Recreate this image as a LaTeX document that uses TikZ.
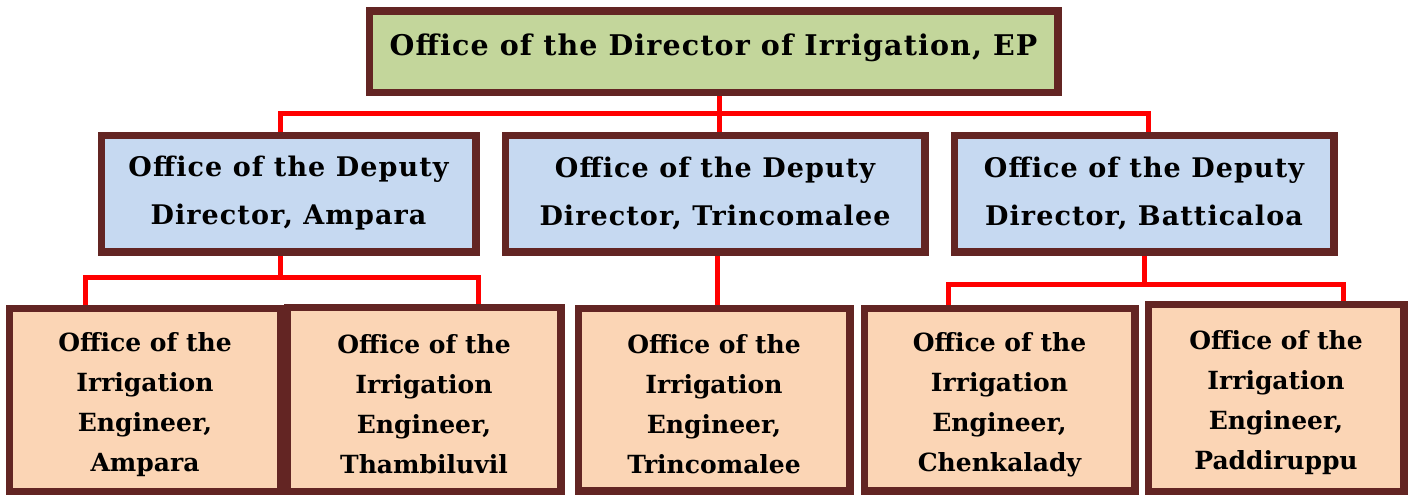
\documentclass[tikz,border=0pt]{standalone}
\usepackage{fontspec}
\setmainfont{DejaVu Serif}
\newfontfamily\boxfont[LetterSpace=4]{DejaVu Serif}
\definecolor{boxborder}{HTML}{632523}
\definecolor{topfill}{HTML}{C3D69B}
\definecolor{midfill}{HTML}{C6D9F1}
\definecolor{lowfill}{HTML}{FBD5B5}
\definecolor{linkred}{HTML}{FF0000}
\newcommand{\lowstrut}{\rule{0pt}{29pt}}
\tikzset{
  orgbox/.style={draw=boxborder, line width=5pt, rectangle, inner sep=0pt, align=center, text=black},
  topbox/.style={orgbox, fill=topfill, font=\boxfont\bfseries\fontsize{28.5}{34}\selectfont, text height=23pt, text depth=16pt},
  midbox/.style={orgbox, fill=midfill, font=\boxfont\bfseries\fontsize{27}{48}\selectfont},
  lowbox/.style={orgbox, fill=lowfill, font=\bfseries\fontsize{25}{40}\selectfont},
  conn/.style={draw=linkred, line width=5pt, line join=miter}
}
\begin{document}
\begin{tikzpicture}[x=1pt,y=-1pt]
\useasboundingbox (0,0) rectangle (1409,495);
% boxes
\node[topbox, minimum width=686pt, minimum height=79pt] (top) at (713.5,52) {Office of the Director of Irrigation, EP};
\node[midbox, minimum width=372pt, minimum height=114pt] (ma) at (288.5,193.5) {Office of the Deputy\\Director, Ampara};
\node[midbox, minimum width=417pt, minimum height=114pt] (mt) at (715,193.5) {Office of the Deputy\\Director, Trincomalee};
\node[midbox, minimum width=377pt, minimum height=114pt] (mb) at (1144,193.5) {Office of the Deputy\\Director, Batticaloa};
\node[lowbox, minimum width=269pt, minimum height=181pt] (b1) at (145,400) {\lowstrut Office of the\\Irrigation\\Engineer,\\Ampara};
\node[lowbox, minimum width=271pt, minimum height=182pt] (b2) at (424,399.5) {\lowstrut Office of the\\Irrigation\\Engineer,\\Thambiluvil};
\node[lowbox, minimum width=269pt, minimum height=180pt] (b3) at (714,399.5) {\lowstrut Office of the\\Irrigation\\Engineer,\\Trincomalee};
\node[lowbox, minimum width=268pt, minimum height=180pt] (b4) at (999.5,399.5) {\lowstrut Office of the\\Irrigation\\Engineer,\\Chenkalady};
\node[lowbox, minimum width=253pt, minimum height=185pt] (b5) at (1276,398) {\lowstrut Office of the\\Irrigation\\Engineer,\\Paddiruppu};
% junction coordinates
\coordinate (hA) at (280,113);
\coordinate (hT) at (719,113);
\coordinate (hB) at (1148,113);
\coordinate (aM) at (280,277);
\coordinate (a1) at (85,277);
\coordinate (a2) at (478,277);
\coordinate (tM) at (717,300);
\coordinate (bM) at (1144,284);
\coordinate (b4c) at (948,284);
\coordinate (b5c) at (1343,284);
% connectors
\draw[conn] (hT |- top.south) -- (hT);
\draw[conn] (hA |- ma.north) -- (hA) -- (hB) -- (hB |- mb.north);
\draw[conn] (hT) -- (hT |- mt.north);
\draw[conn] (aM |- ma.south) -- (aM);
\draw[conn] (a1 |- b1.north) -- (a1) -- (a2) -- (a2 |- b2.north);
\draw[conn] (tM |- mt.south) -- (tM |- b3.north);
\draw[conn] (bM |- mb.south) -- (bM);
\draw[conn] (b4c |- b4.north) -- (b4c) -- (b5c) -- (b5c |- b5.north);
% redraw box borders over connector ends
\foreach \n in {top,ma,mt,mb,b1,b2,b3,b4,b5}{
  \draw[boxborder, line width=5pt] (\n.north west) rectangle (\n.south east);
}
\end{tikzpicture}
\end{document}
